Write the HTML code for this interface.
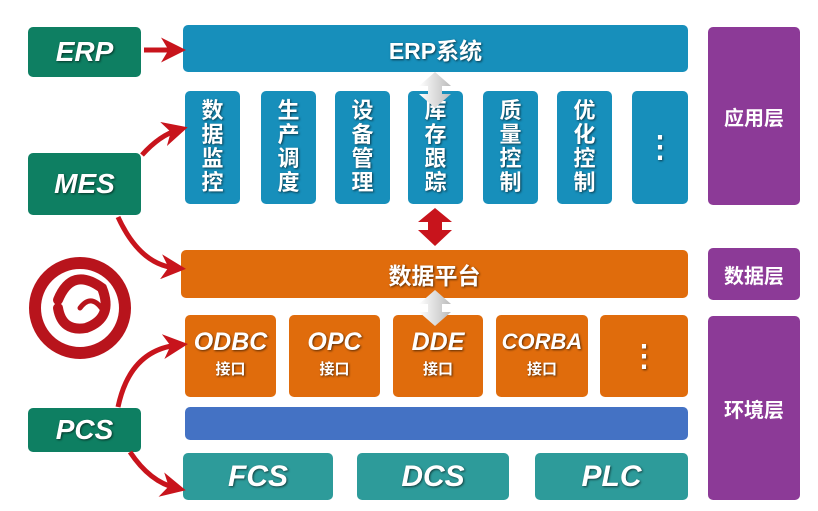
<!DOCTYPE html>
<html><head><meta charset="utf-8"><style>
body{margin:0;width:818px;height:511px;background:#fff;position:relative;overflow:hidden;font-family:"Liberation Sans","Noto Sans CJK SC",sans-serif}
.b{position:absolute;border-radius:5px;color:#fff;font-weight:bold;display:flex;align-items:center;justify-content:center;text-align:center;text-shadow:1px 1px 2px rgba(0,0,0,.6)}
.g{background:#0e7f62;font-style:italic;font-size:28px}
.bl{background:#178fbb}
.o{background:#e06c0c}
.t{background:#2d9b9a;font-style:italic;font-size:30px}
.p{background:#8c3a97;font-size:20px;text-shadow:none}
.v{font-size:22px;line-height:24px;align-items:flex-start;padding-top:8px;box-sizing:border-box}
.d{font-size:30px}
.i{flex-direction:column;font-style:italic;font-size:25px;line-height:28px}
.i small{font-size:15px;font-style:normal}
</style></head><body>
<div class="b g" style="left:28px;top:27px;width:113px;height:50px">ERP</div>
<div class="b g" style="left:28px;top:153px;width:113px;height:62px">MES</div>
<div class="b g" style="left:28px;top:408px;width:113px;height:44px">PCS</div>
<div class="b bl" style="left:183px;top:25px;width:505px;height:47px;font-size:23px">ERP系统</div>
<div class="b bl v" style="left:185px;top:91px;width:55px;height:113px">数<br>据<br>监<br>控</div>
<div class="b bl v" style="left:261px;top:91px;width:55px;height:113px">生<br>产<br>调<br>度</div>
<div class="b bl v" style="left:335px;top:91px;width:55px;height:113px">设<br>备<br>管<br>理</div>
<div class="b bl v" style="left:408px;top:91px;width:55px;height:113px">库<br>存<br>跟<br>踪</div>
<div class="b bl v" style="left:483px;top:91px;width:55px;height:113px">质<br>量<br>控<br>制</div>
<div class="b bl v" style="left:557px;top:91px;width:55px;height:113px">优<br>化<br>控<br>制</div>
<div class="b bl d" style="left:632px;top:91px;width:56px;height:113px">⋮</div>
<div class="b o" style="left:181px;top:250px;width:507px;height:48px;font-size:23px">数据平台</div>
<div class="b o i" style="left:185px;top:315px;width:91px;height:82px">ODBC<small>接口</small></div>
<div class="b o i" style="left:289px;top:315px;width:91px;height:82px">OPC<small>接口</small></div>
<div class="b o i" style="left:393px;top:315px;width:90px;height:82px">DDE<small>接口</small></div>
<div class="b o i" style="left:496px;top:315px;width:92px;height:82px;font-size:22px">CORBA<small>接口</small></div>
<div class="b o d" style="left:600px;top:315px;width:88px;height:82px">⋮</div>
<div class="b" style="left:185px;top:407px;width:503px;height:33px;background:#4472c4"></div>
<div class="b t" style="left:183px;top:453px;width:150px;height:47px">FCS</div>
<div class="b t" style="left:357px;top:453px;width:152px;height:47px">DCS</div>
<div class="b t" style="left:535px;top:453px;width:153px;height:47px">PLC</div>
<div class="b p" style="left:708px;top:27px;width:92px;height:178px">应用层</div>
<div class="b p" style="left:708px;top:248px;width:92px;height:52px">数据层</div>
<div class="b p" style="left:708px;top:316px;width:92px;height:184px">环境层</div>
<svg width="818" height="511" style="position:absolute;left:0;top:0">
<defs><marker id="a" markerWidth="5" markerHeight="5" refX="3" refY="2.5" orient="auto"><path d="M0,0L5,2.5L0,5L1.5,2.5z" fill="#c8141c"/></marker>
<linearGradient id="w" x1="0" x2="1"><stop offset="0" stop-color="#fff"/><stop offset="1" stop-color="#bbb"/></linearGradient></defs>
<g stroke="#c8141c" stroke-width="5" fill="none" marker-end="url(#a)">
<path d="M144,50L176,50"/>
<path d="M142,155Q160,135 178,130"/>
<path d="M118,217Q140,265 176,268"/>
<path d="M118,407Q130,350 178,345"/>
<path d="M130,452Q150,482 176,488"/>
</g>
<path d="M435,72l-16,14h9v8h-9l16,14l16,-14h-9v-8h9z" fill="url(#w)"/>
<path d="M435,208l-17,14h10v8h-10l17,16l17,-16h-10v-8h10z" fill="#c8141c"/>
<path d="M435,290l-16,14h9v8h-9l16,14l16,-14h-9v-8h9z" fill="url(#w)"/>
<g fill="none" stroke="#b8141c" stroke-linecap="round">
<circle cx="80" cy="308" r="45" stroke-width="12"/>
<path d="M58,300Q72,266 102,288Q114,318 86,328Q62,332 58,308" stroke-width="10"/>
<path d="M80,308Q92,292 104,312" stroke-width="5"/>
</g>
</svg>
</body></html>
